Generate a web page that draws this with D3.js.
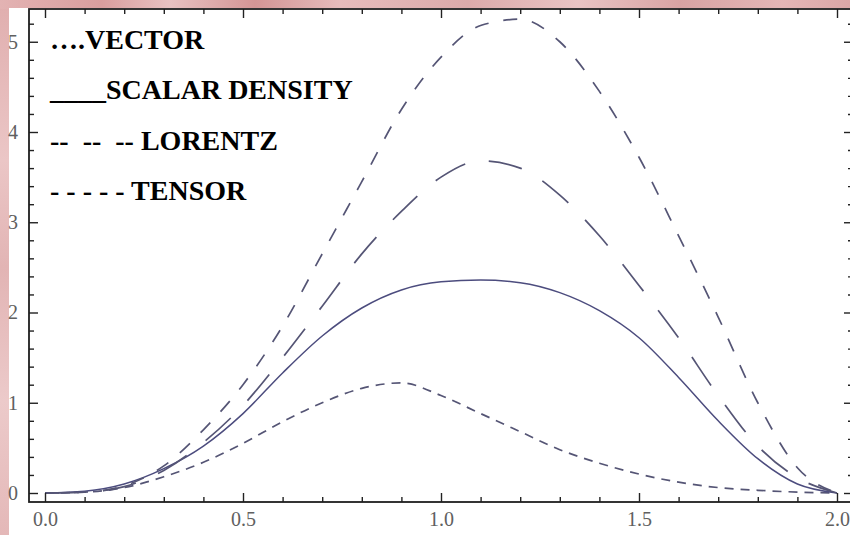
<!DOCTYPE html>
<html>
<head>
<meta charset="utf-8">
<script src="https://cdn.jsdelivr.net/npm/d3@7/dist/d3.min.js"></script>
<style>
  html, body { margin: 0; padding: 0; background: #e6b9b9; }
  svg { display: block; }
  .legend text { white-space: pre; }
</style>
</head>
<body>
<svg id="chart" width="850" height="535"></svg>
<script>
// Sample grid (x) shared by all curves
const xValues = [0.0, 0.1, 0.2, 0.3, 0.4, 0.5, 0.6, 0.7, 0.8, 0.9, 1.0,
                 1.1, 1.2, 1.3, 1.4, 1.5, 1.6, 1.7, 1.8, 1.9, 2.0];

// Curve values at each x
const vectorSeries = [0, 0.01, 0.08, 0.30, 0.70, 1.20, 1.85, 2.65, 3.45, 4.25, 4.83,
                      5.18, 5.25, 5.00, 4.45, 3.72, 2.85, 1.95, 1.00, 0.28, 0];
const lorentzSeries = [0, 0.01, 0.07, 0.25, 0.56, 0.97, 1.50, 2.07, 2.65, 3.12, 3.50,
                       3.68, 3.60, 3.30, 2.85, 2.30, 1.72, 1.08, 0.52, 0.17, 0];
const scalarDensity = [0, 0.02, 0.10, 0.27, 0.52, 0.88, 1.33, 1.74, 2.05, 2.25, 2.34,
                       2.36, 2.33, 2.22, 2.02, 1.72, 1.28, 0.80, 0.38, 0.10, 0];
const tensorSeries = [0, 0.01, 0.06, 0.18, 0.34, 0.55, 0.79, 1.00, 1.16, 1.22, 1.08,
                      0.88, 0.68, 0.48, 0.33, 0.21, 0.12, 0.06, 0.03, 0.01, 0];

// Axis ticks
const xMajorTicks = [0, 0.5, 1.0, 1.5, 2.0];
const xTickLabels = ["0.0", "0.5", "1.0", "1.5", "2.0"];
const xMinorTicks = [0.1, 0.2, 0.3, 0.4, 0.6, 0.7, 0.8, 0.9, 1.1, 1.2, 1.3, 1.4, 1.6, 1.7, 1.8, 1.9];
const yMajorTicks = [0, 1, 2, 3, 4, 5];
const yTickLabels = ["0", "1", "2", "3", "4", "5"];
const yMinorTicks = [0.2, 0.4, 0.6, 0.8, 1.2, 1.4, 1.6, 1.8, 2.2, 2.4, 2.6, 2.8,
                     3.2, 3.4, 3.6, 3.8, 4.2, 4.4, 4.6, 4.8, 5.2];

// Legend lines
const legendLabels = ["\u2026.VECTOR", "____SCALAR DENSITY", "--  --  -- LORENTZ", "- - - - - TENSOR"];

const W = 850, H = 535;
const frame = { left: 29, right: 853, top: 9, bottom: 502 };

const svg = d3.select("#chart");

// Pink backdrop with a little variation
const defs = svg.append("defs");
const gTop = defs.append("linearGradient").attr("id", "pinkTop")
  .attr("x1", "0").attr("x2", "1").attr("y1", "0").attr("y2", "0");
[[0, "#e3b3b3"], [0.12, "#d99e9e"], [0.2, "#e8c2c2"], [0.3, "#d49595"], [0.4, "#e6bcbc"],
 [0.55, "#dcaaaa"], [0.68, "#e9c4c4"], [0.8, "#d8a3a3"], [0.92, "#e4b6b6"], [1, "#dba7a7"]]
  .forEach(([o, c]) => gTop.append("stop").attr("offset", o).attr("stop-color", c));
const gLeft = defs.append("linearGradient").attr("id", "pinkLeft")
  .attr("x1", "0").attr("x2", "0").attr("y1", "0").attr("y2", "1");
[[0, "#e0aeae"], [0.3, "#ebc6c6"], [0.5, "#e2b4b4"], [0.75, "#eccaca"], [1, "#e4b8b8"]]
  .forEach(([o, c]) => gLeft.append("stop").attr("offset", o).attr("stop-color", c));

svg.append("rect").attr("x", 0).attr("y", 0).attr("width", W).attr("height", H).attr("fill", "url(#pinkLeft)");
svg.append("rect").attr("x", 0).attr("y", 0).attr("width", W).attr("height", 9).attr("fill", "url(#pinkTop)");
svg.append("rect").attr("x", 9).attr("y", 8).attr("width", W - 9).attr("height", H - 8).attr("fill", "#ffffff");

// Scales
const x = d3.scaleLinear().domain([0, 2]).range([45, 837]);
const y = d3.scaleLinear().domain([0, 5]).range([493, 41.75]);

// Clip to the frame
defs.append("clipPath").attr("id", "plotClip").append("rect")
  .attr("x", frame.left).attr("y", frame.top)
  .attr("width", frame.right - frame.left).attr("height", frame.bottom - frame.top);

// Curves
const series = [
  { values: tensorSeries, dash: "9,7", color: "#555575", width: 1.7 },
  { values: scalarDensity, dash: null, color: "#4c4c7e", width: 1.5 },
  { values: lorentzSeries, dash: "34,24", color: "#555575", width: 1.7 },
  { values: vectorSeries, dash: "14,15", color: "#555575", width: 1.7 }
];
const line = d3.line()
  .x((d, i) => x(xValues[i]))
  .y(d => y(d))
  .curve(d3.curveMonotoneX);

const plot = svg.append("g").attr("clip-path", "url(#plotClip)");
series.forEach(s => {
  plot.append("path")
    .attr("d", line(s.values))
    .attr("fill", "none")
    .attr("stroke", s.color)
    .attr("stroke-width", s.width)
    .attr("stroke-dasharray", s.dash)
    .attr("stroke-linecap", "butt");
});

// Axes: ticks point inward on all four sides
function styleAxis(g) {
  g.select(".domain").remove();
  g.selectAll(".tick line").attr("stroke", "#222").attr("stroke-width", 1.4);
  g.selectAll(".tick text")
    .attr("fill", "#606060")
    .style("font-family", "'Liberation Serif', 'Times New Roman', serif")
    .style("font-size", "20px");
}
const fmtX = d => xTickLabels[xMajorTicks.indexOf(d)];
const fmtY = d => yTickLabels[yMajorTicks.indexOf(d)];

svg.append("g").attr("transform", `translate(0,${frame.bottom})`)
  .call(d3.axisBottom(x).tickValues(xMajorTicks).tickSize(-9).tickPadding(10).tickFormat(fmtX)).call(styleAxis);
svg.append("g").attr("transform", `translate(0,${frame.bottom})`)
  .call(d3.axisBottom(x).tickValues(xMinorTicks).tickSize(-5).tickFormat("")).call(styleAxis);
svg.append("g").attr("transform", `translate(0,${frame.top})`)
  .call(d3.axisTop(x).tickValues(xMajorTicks).tickSize(-9).tickFormat("")).call(styleAxis);
svg.append("g").attr("transform", `translate(0,${frame.top})`)
  .call(d3.axisTop(x).tickValues(xMinorTicks).tickSize(-5).tickFormat("")).call(styleAxis);

svg.append("g").attr("transform", `translate(${frame.left},0)`)
  .call(d3.axisLeft(y).tickValues(yMajorTicks).tickSize(-9).tickPadding(11).tickFormat(fmtY)).call(styleAxis);
svg.append("g").attr("transform", `translate(${frame.left},0)`)
  .call(d3.axisLeft(y).tickValues(yMinorTicks).tickSize(-5).tickFormat("")).call(styleAxis);
svg.append("g").attr("transform", `translate(${frame.right},0)`)
  .call(d3.axisRight(y).tickValues(yMajorTicks).tickSize(-9).tickFormat("")).call(styleAxis);
svg.append("g").attr("transform", `translate(${frame.right},0)`)
  .call(d3.axisRight(y).tickValues(yMinorTicks).tickSize(-5).tickFormat("")).call(styleAxis);

// Frame
svg.append("rect")
  .attr("x", frame.left).attr("y", frame.top)
  .attr("width", frame.right - frame.left).attr("height", frame.bottom - frame.top)
  .attr("fill", "none").attr("stroke", "#1e1e1e").attr("stroke-width", 1.8);

// Legend text block
const legend = svg.append("g").attr("class", "legend");
legend.selectAll("text").data(legendLabels).join("text")
  .attr("x", 50)
  .attr("y", (d, i) => 49 + i * 50.3)
  .attr("fill", "#000")
  .style("font-family", "'Liberation Serif', 'Times New Roman', serif")
  .style("font-weight", "bold")
  .style("font-size", "28px")
  .text(d => d);
</script>
</body>
</html>
